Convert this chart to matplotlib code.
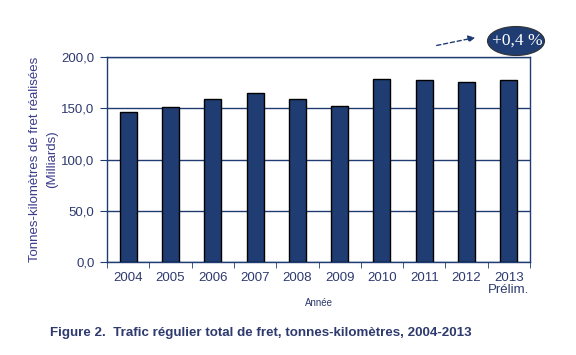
import matplotlib.pyplot as plt
import numpy as np
from matplotlib.patches import Ellipse

# Data
years = ['2004', '2005', '2006', '2007', '2008', '2009', '2010', '2011', '2012', '2013\nPrélim.']
values = [146.3, 151.0, 158.7, 164.9, 158.7, 151.9, 178.2, 177.2, 175.3, 177.2]
y_ticks = [0, 50, 100, 150, 200]

navy = '#1F3D73'
text_col = '#2E3A6E'

plt.rcParams['font.family'] = ['Liberation Sans', 'DejaVu Sans']

fig = plt.figure(figsize=(5.76, 3.55), dpi=100)
ax = fig.add_axes([107 / 576, 1 - 262 / 355, 423 / 576, 205 / 355])

x = np.arange(len(years))
ax.bar(x, values, 0.4, color=navy, edgecolor='black', linewidth=1.0, zorder=3)

ax.set_xlim(-0.5, len(years) - 0.5)
ax.set_ylim(0, 200)
ax.set_yticks(y_ticks)
ax.set_yticklabels([f'{v:.1f}'.replace('.', ',') for v in y_ticks], color=text_col, fontsize=9.5)
ax.yaxis.grid(True, color=navy, linewidth=1.0, zorder=1)

# category labels centred, tick marks between categories
ax.set_xticks(x)
ax.set_xticklabels(years, color=text_col, fontsize=9.5, linespacing=1.0)
ax.tick_params(axis='x', length=0, pad=7)
ax.set_xticks(np.arange(-0.5, len(years)), minor=True)
ax.tick_params(axis='x', which='minor', length=4, color=navy, direction='out')
ax.tick_params(axis='y', length=5, color=navy, direction='out', pad=4)

for s in ax.spines.values():
    s.set_color(navy)
    s.set_linewidth(1.0)

ax.set_ylabel('Tonnes-kilomètres de fret réalisées\n(Milliards)', color='#3A3A8C', fontsize=9.5,
              labelpad=2, linespacing=1.6)
ax.set_xlabel('Année', color=text_col, fontsize=7, labelpad=2)

# growth annotation
ax.annotate('', xy=(478 / 576, 1 - 37 / 355), xytext=(434 / 576, 1 - 46 / 355),
            xycoords='figure fraction', textcoords='figure fraction',
            arrowprops=dict(arrowstyle='-|>', linestyle=(0, (3, 2)), color=navy, lw=1,
                            mutation_scale=10))
ell = Ellipse((516 / 576, 1 - 41 / 355), 57 / 576, 29 / 355, transform=fig.transFigure,
              facecolor=navy, edgecolor='#333333', linewidth=0.8)
fig.patches.append(ell)
fig.text(517 / 576, 1 - 41 / 355, '+0,4 %', color='white', fontsize=12.5,
         family=['Liberation Serif', 'DejaVu Serif'], ha='center', va='center')

fig.text(50 / 576, 1 - 333 / 355, 'Figure 2.  Trafic régulier total de fret, tonnes-kilomètres, 2004-2013',
         color=text_col, fontsize=9.6, fontweight='bold', ha='left', va='center')

plt.savefig('out.png', dpi=100)
